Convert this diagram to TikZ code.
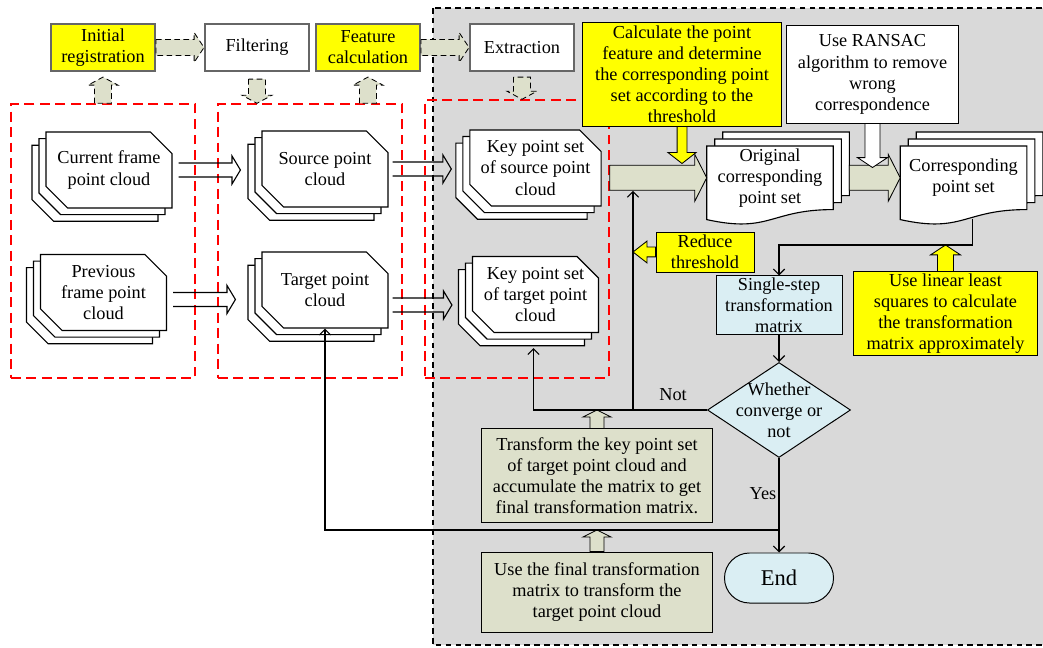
\documentclass[tikz,border=0pt]{standalone}
\usepackage{fontspec}
\setmainfont{Liberation Serif}
\usetikzlibrary{calc,fit,shapes.geometric,shapes.misc,shadows,arrows.meta}
\pgfdeclarelayer{bg}
\pgfsetlayers{bg,main}

\definecolor{ylw}{RGB}{255,255,0}
\definecolor{sage}{RGB}{221,224,203}
\definecolor{lblue}{RGB}{218,238,243}
\definecolor{zone}{RGB}{217,217,217}

% block arrows: [style]{tail}{tip}{body half}{head half}{head length}
\newcommand{\rblock}[6][blk]{\draw[#1] let \p1=(#2), \p2=(#3) in
  (\x1,\y2+#4) -- (\x2-#6,\y2+#4) -- (\x2-#6,\y2+#5) -- (\x2,\y2)
  -- (\x2-#6,\y2-#5) -- (\x2-#6,\y2-#4) -- (\x1,\y2-#4) -- cycle;}
\newcommand{\lblock}[6][blk]{\draw[#1] let \p1=(#2), \p2=(#3) in
  (\x1,\y2+#4) -- (\x2+#6,\y2+#4) -- (\x2+#6,\y2+#5) -- (\x2,\y2)
  -- (\x2+#6,\y2-#5) -- (\x2+#6,\y2-#4) -- (\x1,\y2-#4) -- cycle;}
\newcommand{\ublock}[6][blk]{\draw[#1] let \p1=(#2), \p2=(#3) in
  (\x2-#4,\y1) -- (\x2-#4,\y2-#6) -- (\x2-#5,\y2-#6) -- (\x2,\y2)
  -- (\x2+#5,\y2-#6) -- (\x2+#4,\y2-#6) -- (\x2+#4,\y1) -- cycle;}
\newcommand{\dblock}[6][blk]{\draw[#1] let \p1=(#2), \p2=(#3) in
  (\x2-#4,\y1) -- (\x2-#4,\y2+#6) -- (\x2-#5,\y2+#6) -- (\x2,\y2)
  -- (\x2+#5,\y2+#6) -- (\x2+#4,\y2+#6) -- (\x2+#4,\y1) -- cycle;}
% open double arrow
\newcommand{\hollowarrow}[2]{\draw[hollow] let \p1=(#1), \p2=(#2) in
  (\x1,\y1+5pt) -- (\x2-6pt,\y1+5pt) -- (\x2-6pt,\y1+10pt) -- (\x2,\y1)
  -- (\x2-6pt,\y1-10pt) -- (\x2-6pt,\y1-5pt) -- (\x1,\y1-5pt);}
% three stacked documents with wavy bottom
\newcommand{\wavedoc}[1]{\foreach \d in {2,1,0}{
  \draw[docline, transform canvas={xshift=\d*0.2cm, yshift=\d*0.175cm}]
    (#1.north west) -- (#1.north east) -- (#1.south east)
    .. controls (#1.south) and ($(#1.south)+(0,24)$) .. ($(#1.south west)+(0,10)$) -- cycle;}}

\begin{document}
\begin{tikzpicture}[x=0.025cm, y=-0.025cm,
    every node/.style={font=\fontsize{13}{15}\selectfont, align=center, inner sep=0pt},
    btn/.style={rectangle, draw=black!60, line width=1.4pt, minimum width=2.6cm, minimum height=1.18cm},
    stack/.style={chamfered rectangle, chamfered rectangle corners={north east,south west},
      chamfered rectangle xsep=0.27cm, chamfered rectangle ysep=0.27cm,
      draw, line width=0.8pt, fill=white, minimum width=3.15cm, minimum height=1.9cm,
      general shadow={shadow xshift=-0.35cm, shadow yshift=-0.33cm, draw, line width=0.8pt, fill=white},
      general shadow={shadow xshift=-0.175cm, shadow yshift=-0.165cm, draw, line width=0.8pt, fill=white}},
    wdoc/.style={minimum width=3.15cm, minimum height=1.575cm},
    docline/.style={draw, line width=0.8pt, fill=white},
    note/.style={rectangle, draw, line width=0.7pt},
    redbox/.style={draw=red, dash pattern=on 7pt off 4pt, line width=1pt},
    blk/.style={draw, line width=0.6pt, fill=sage},
    dblk/.style={blk, dash pattern=on 4pt off 2.5pt},
    hollow/.style={draw, line width=0.8pt},
    arrow/.style={draw, line width=0.8pt, -{Straight Barb[length=4pt,width=8pt]}}
]
\useasboundingbox (0,0) rectangle (1043,648);

% Zones
\begin{pgfonlayer}{bg}
\draw[fill=zone, dash pattern=on 4pt off 3pt, line width=0.8pt] (433,8) rectangle (1060,645);
\node[redbox, fit={(11,104) (195,378)}] (grp1) {};
\node[redbox, fit={(218,104) (402,378)}] (grp2) {};
\node[redbox, fit={(425,100) (609,378)}] (grp3) {};
\end{pgfonlayer}

% Top row
\node[btn, fill=ylw] (init) at (103,47.5) {Initial\\registration};
\node[btn, fill=white] (filt) at (257,47.5) {Filtering};
\node[btn, fill=ylw] (feat) at (368,47.5) {Feature\\calculation};
\node[btn, fill=white] (extr) at (522,47.5) {Extraction};

% Point clouds
\node[stack] (cur) at (109,170) {Current frame\\point cloud};
\node[stack] (prev) at (103.5,292.5) {Previous\\frame point\\cloud};
\node[stack] (src) at (325,169) {Source point\\cloud};
\node[stack] (tgt) at (325,290) {Target point\\cloud};
\node[stack] (ksrc) at (535.5,168) {Key point set\\of source point\\cloud};
\node[stack] (ktgt) at (535.5,294.5) {Key point set\\of target point\\cloud};

% Point sets
\node[wdoc, anchor=north] (orig) at (770,146) {Original\\corresponding\\point set};
\node[wdoc, anchor=north] (corr) at (963.5,146) {Corresponding\\point set};
\begin{pgfonlayer}{bg}
\wavedoc{orig}
\wavedoc{corr}
\end{pgfonlayer}

% Notes and steps
\node[note, fill=ylw, minimum width=4.95cm, minimum height=2.575cm] (calc) at (682,74.5)
  {Calculate the point\\feature and determine\\the corresponding point\\set according to the\\threshold};
\node[note, fill=white, minimum width=4.275cm, minimum height=2.425cm] (ransac) at (872.5,74.5)
  {Use RANSAC\\algorithm to remove\\wrong\\correspondence};
\node[note, fill=ylw, minimum width=2.45cm, minimum height=1cm] (reduce) at (705,252) {Reduce\\threshold};
\node[note, fill=ylw, minimum width=4.575cm, minimum height=2.075cm] (lls) at (945.5,313.5)
  {Use linear least\\squares to calculate\\the transformation\\matrix approximately};
\node[note, fill=lblue, minimum width=3.15cm, minimum height=1.45cm] (single) at (779,305)
  {Single-step\\transformation\\matrix};
\node[diamond, draw, fill=lblue, line width=0.7pt, minimum width=3.575cm, minimum height=2.375cm] (conv) at (779,410) {};
\node (convtxt) at (conv) {Whether\\converge or\\not};
\node[rounded rectangle, draw, fill=lblue, line width=0.7pt, minimum width=2.725cm, minimum height=1.25cm,
  font=\fontsize{16}{18}\selectfont] (fin) at (779,578) {End};
\node[note, fill=sage, minimum width=5.75cm, minimum height=2.325cm] (trans) at (597,475.5)
  {Transform the key point set\\of target point cloud and\\accumulate the matrix to get\\final transformation matrix.};
\node[note, fill=sage, minimum width=5.75cm, minimum height=2cm] (final) at (597,592)
  {Use the final transformation\\matrix to transform the\\target point cloud};

% Junctions
\coordinate (turn) at (779,245);
\coordinate (nj) at (633,410);
\coordinate (yj) at (779,530);
\coordinate (bigbot) at ($(orig.west)+(0,13)$);

% Block arrows - top row
\rblock[dblk]{init.east}{filt.west}{5.7pt}{10.6pt}{7pt}
\rblock[dblk]{feat.east}{extr.west}{5.7pt}{10.6pt}{7pt}
\ublock[dblk]{init |- grp1.north}{$(init.south)+(0,5)$}{6pt}{10.6pt}{5.7pt}
\dblock[dblk]{$(filt.south)+(0,7)$}{filt |- grp2.north}{6pt}{10.6pt}{5.7pt}
\ublock[dblk]{feat |- grp2.north}{$(feat.south)+(0,5)$}{6pt}{10.6pt}{5.7pt}
\dblock[dblk]{$(extr.south)+(0,5)$}{extr |- grp3.north}{6pt}{10.6pt}{5.7pt}

% Open arrows
\hollowarrow{$(cur.east)+(6,0)$}{$(src.west)+(-21,0)$}
\hollowarrow{$(prev.east)+(6,7)$}{$(tgt.west)+(-26,0)$}
\hollowarrow{$(src.east)+(4,0)$}{$(ksrc.west)+(-18,0)$}
\hollowarrow{$(tgt.east)+(4,15)$}{$(ktgt.west)+(-20,0)$}

% Block arrows - matching
\rblock{grp3.east}{orig.west}{8.9pt}{16.7pt}{8.5pt}
\rblock{$(orig.east)+(16,0)$}{corr.west}{8.9pt}{16.7pt}{8.5pt}
\dblock[blk, fill=ylw]{calc.south}{$(calc.south)+(0,37)$}{3.5pt}{10pt}{7.8pt}
\dblock[blk, fill=white]{ransac.south}{$(ransac.south)+(0,44)$}{5.3pt}{10.6pt}{7pt}
\lblock[blk, fill=ylw]{reduce.west}{nj |- reduce.west}{3.5pt}{7.8pt}{10pt}
\ublock[blk, fill=ylw]{lls.north}{lls.north |- turn}{5.7pt}{10.6pt}{7pt}
\ublock{trans.north}{trans.north |- nj}{5pt}{10pt}{5pt}
\ublock{final.north}{final.north |- yj}{5pt}{10pt}{5pt}

% Loop
\draw[arrow] ($(corr.south)+(9,9)$) |- (turn) -- (single.north);
\draw[arrow] (single.south) -- (conv.north);
\draw[arrow] (conv.south) -- (fin.north);
\draw[arrow] (conv.west) -| ($(ktgt.south)+(-2,15)$);
\draw[arrow] (nj) -- (nj |- bigbot);
\draw[arrow] (yj) -| (tgt.south);
\node (notlbl) at (673,395) {Not};
\node (yeslbl) at (763,494) {Yes};

\end{tikzpicture}
\end{document}
